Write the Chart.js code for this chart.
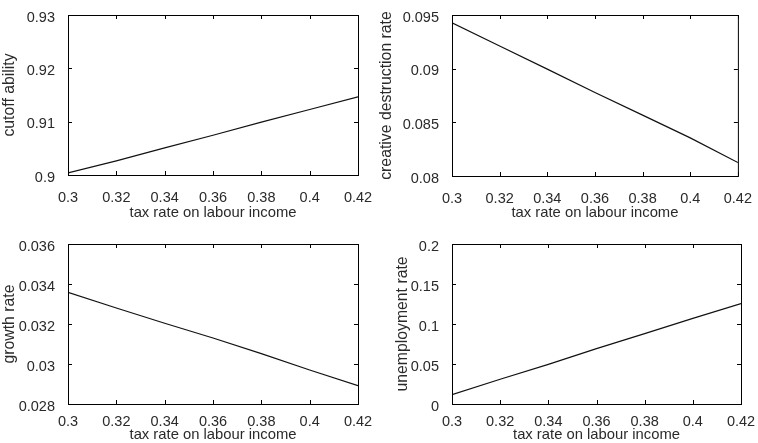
<!DOCTYPE html>
<html>
<head>
<meta charset="utf-8">
<script src="https://cdn.jsdelivr.net/npm/chart.js@4"></script>
<style>
  html, body { margin: 0; padding: 0; background: #fff; }
  #wrap { position: relative; width: 758px; height: 443px; overflow: hidden; background: #fff; }
  #wrap canvas { position: absolute; }
</style>
</head>
<body>
<div id="wrap">
  <canvas id="p1" width="379" height="222" style="left:0;top:0"></canvas>
  <canvas id="p2" width="379" height="222" style="left:379px;top:0"></canvas>
  <canvas id="p3" width="379" height="221" style="left:0;top:222px"></canvas>
  <canvas id="p4" width="379" height="221" style="left:379px;top:222px"></canvas>
</div>
<script>
// Tax rate on labour income (shared x values)
const taxRate = [0.30, 0.32, 0.34, 0.36, 0.38, 0.40, 0.42];

// Model outcomes at each tax rate
const cutoffAbility       = [0.9004, 0.90266, 0.9051, 0.90746, 0.9099, 0.91228, 0.91465];
const creativeDestruction = [0.09428, 0.09211, 0.08996, 0.08778, 0.08567, 0.08355, 0.08125];
const growthRate          = [0.03358, 0.0328, 0.03204, 0.0313, 0.03052, 0.0297, 0.02892];
const unemploymentRate    = [0.0117, 0.0310, 0.0495, 0.0692, 0.0880, 0.1070, 0.1256];

// Axis ticks
const xTicks      = [0.30, 0.32, 0.34, 0.36, 0.38, 0.40, 0.42];
const xTickLabels = ['0.3', '0.32', '0.34', '0.36', '0.38', '0.4', '0.42'];
const cutoffTicks       = [0.90, 0.91, 0.92, 0.93];
const cutoffTickLabels  = ['0.9', '0.91', '0.92', '0.93'];
const destrTicks        = [0.080, 0.085, 0.090, 0.095];
const destrTickLabels   = ['0.08', '0.085', '0.09', '0.095'];
const growthTicks       = [0.028, 0.030, 0.032, 0.034, 0.036];
const growthTickLabels  = ['0.028', '0.03', '0.032', '0.034', '0.036'];
const unempTicks        = [0, 0.05, 0.10, 0.15, 0.20];
const unempTickLabels   = ['0', '0.05', '0.1', '0.15', '0.2'];

const xTitle = 'tax rate on labour income';
const FONT = '"Liberation Sans", Arial, Helvetica, sans-serif';
const TEXT = '#2a2a2a';

// Box around the plot area with short inward tick marks on all four sides
const boxTicks = {
  id: 'boxTicks',
  afterDraw(chart) {
    const { ctx, chartArea: a, scales } = chart;
    const L = 4;
    ctx.save();
    ctx.strokeStyle = '#000';
    ctx.lineWidth = 1;
    ctx.beginPath();
    scales.x.ticks.forEach(t => {
      const px = Math.round(scales.x.getPixelForValue(t.value)) + 0.5;
      ctx.moveTo(px, a.bottom); ctx.lineTo(px, a.bottom - L);
      ctx.moveTo(px, a.top);    ctx.lineTo(px, a.top + L);
    });
    scales.y.ticks.forEach(t => {
      const py = Math.round(scales.y.getPixelForValue(t.value)) + 0.5;
      ctx.moveTo(a.left, py);  ctx.lineTo(a.left + L, py);
      ctx.moveTo(a.right, py); ctx.lineTo(a.right - L, py);
    });
    ctx.stroke();
    ctx.strokeRect(a.left + 0.5, a.top + 0.5, a.right - a.left, a.bottom - a.top);
    ctx.restore();
  }
};

function makePanel(id, values, yTicks, yLabels, yTitle, g) {
  const pts = taxRate.map((x, i) => ({ x: x, y: values[i] }));
  return new Chart(document.getElementById(id), {
    type: 'line',
    data: {
      datasets: [{
        data: pts,
        borderColor: '#111',
        borderWidth: 1.2,
        pointRadius: 0,
        tension: 0,
        fill: false
      }]
    },
    options: {
      responsive: false,
      animation: false,
      events: [],
      layout: { padding: { top: g.padTop, right: g.padRight, left: 0, bottom: 0 } },
      plugins: { legend: { display: false }, tooltip: { enabled: false } },
      scales: {
        x: {
          type: 'linear',
          min: xTicks[0],
          max: xTicks[xTicks.length - 1],
          afterBuildTicks: s => { s.ticks = xTicks.map(v => ({ value: v })); },
          afterFit: s => { s.height = g.xHeight; },
          grid: { display: false },
          border: { display: false },
          ticks: {
            color: TEXT,
            font: { family: FONT, size: 14.5 },
            padding: g.xTickPad,
            maxRotation: 0,
            autoSkip: false,
            callback: (v, i) => xTickLabels[i]
          },
          title: {
            display: true,
            text: xTitle,
            color: TEXT,
            font: { family: FONT, size: 14.8, lineHeight: 1 },
            padding: { top: 0, bottom: g.xTitlePad }
          }
        },
        y: {
          type: 'linear',
          min: yTicks[0],
          max: yTicks[yTicks.length - 1],
          afterBuildTicks: s => { s.ticks = yTicks.map(v => ({ value: v })); },
          afterFit: s => { s.width = g.yWidth; },
          grid: { display: false },
          border: { display: false },
          ticks: {
            color: TEXT,
            font: { family: FONT, size: 14.5 },
            padding: 5,
            labelOffset: 2.5,
            autoSkip: false,
            callback: (v, i) => yLabels[i]
          },
          title: {
            display: true,
            text: yTitle,
            color: TEXT,
            font: { family: FONT, size: 15.8, lineHeight: 1 },
            padding: { top: g.yTitlePad, bottom: 0 }
          }
        }
      }
    },
    plugins: [boxTicks]
  });
}

makePanel('p1', cutoffAbility, cutoffTicks, cutoffTickLabels, 'cutoff ability',
  { padTop: 15, padRight: 21, yWidth: 68, xHeight: 47, xTickPad: 6, xTitlePad: 2, yTitlePad: 2 });
makePanel('p2', creativeDestruction, destrTicks, destrTickLabels, 'creative destruction rate',
  { padTop: 15, padRight: 17, yWidth: 73, xHeight: 46, xTickPad: 6, xTitlePad: 2, yTitlePad: 0 });
makePanel('p3', growthRate, growthTicks, growthTickLabels, 'growth rate',
  { padTop: 22, padRight: 21, yWidth: 68, xHeight: 39, xTickPad: 1.5, xTitlePad: 1, yTitlePad: 2 });
makePanel('p4', unemploymentRate, unempTicks, unempTickLabels, 'unemployment rate',
  { padTop: 22, padRight: 17, yWidth: 73, xHeight: 39, xTickPad: 1.5, xTitlePad: 1, yTitlePad: 16 });
</script>
</body>
</html>
